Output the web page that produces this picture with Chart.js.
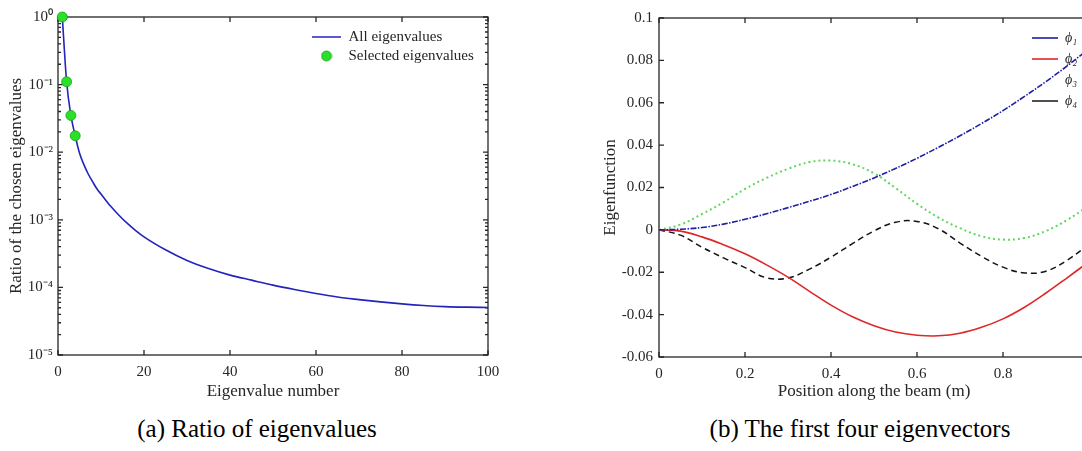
<!DOCTYPE html>
<html>
<head>
<meta charset="utf-8">
<script src="https://cdn.jsdelivr.net/npm/chart.js@4.4.0/dist/chart.umd.min.js"></script>
<style>
  html, body { margin: 0; padding: 0; background: #fff; overflow: hidden; width: 1082px; height: 451px; }
  #wrapA { position: absolute; left: 0; top: 0; }
  #wrapB { position: absolute; left: 540px; top: 0; }
  .caption { position: absolute; top: 415px; line-height: 30px; font: 25px "Liberation Serif", "Times New Roman", serif; color: #000; white-space: nowrap; transform: translateX(-50%); }
</style>
</head>
<body>
<div id="wrapA"><canvas id="ratioChart" width="540" height="410"></canvas></div>
<div id="wrapB"><canvas id="modeChart" width="600" height="410"></canvas></div>
<div class="caption" style="left:257px">(a) Ratio of eigenvalues</div>
<div class="caption" style="left:860px">(b) The first four eigenvectors</div>
<script>
// (a) eigenvalue ratios
var eigNumbers = [1, 2, 3, 4, 5, 6, 7, 8, 9, 10, 12, 14, 16, 18, 20, 25, 30, 35, 40, 45, 50, 55, 60, 65, 70, 75, 80, 85, 90, 95, 100];
var eigRatios = [1, 0.11, 0.035, 0.0175, 0.0097, 0.0066, 0.0048, 0.0037, 0.0029, 0.0024, 0.00165, 0.0012, 0.0009, 0.0007, 0.00056,
                 0.00036, 0.00025, 0.00019, 0.000152, 0.000128, 0.000108, 0.000093, 0.000081, 0.000072, 0.000066, 0.000061,
                 0.000057, 0.000054, 0.000052, 0.000051, 0.0000505];
var selectedNumbers = [1, 2, 3, 4];
var selectedRatios = [1, 0.11, 0.035, 0.0175];
var ratioTicks = [1e-5, 1e-4, 1e-3, 1e-2, 1e-1, 1];
var ratioTickLabels = ['10\u207B\u2075', '10\u207B\u2074', '10\u207B\u00B3', '10\u207B\u00B2', '10\u207B\u00B9', '10\u2070'];
var eigNumberTicks = [0, 20, 40, 60, 80, 100];
var minorSteps = [2, 3, 4, 5, 6, 7, 8, 9];

// (b) first four eigenvectors along the beam
var positions = [0, 0.05, 0.1, 0.15, 0.2, 0.25, 0.3, 0.35, 0.4, 0.45, 0.5, 0.55, 0.6, 0.65, 0.7, 0.75, 0.8, 0.85, 0.9, 0.95, 1];
var phi1 = [0, 0.0003, 0.0011, 0.0027, 0.005, 0.0076, 0.0105, 0.0135, 0.0167, 0.0205, 0.0245, 0.029, 0.0338, 0.039, 0.0444, 0.0502, 0.0563, 0.063, 0.07, 0.0775, 0.0855];
var phi2 = [0, -0.0006, -0.0033, -0.007, -0.0113, -0.0165, -0.0223, -0.029, -0.0355, -0.041, -0.0452, -0.0482, -0.0497, -0.05, -0.0488, -0.046, -0.042, -0.0365, -0.0298, -0.0225, -0.015];
var phi3 = [0, 0.0025, 0.0075, 0.013, 0.0193, 0.0245, 0.0288, 0.032, 0.0327, 0.031, 0.0267, 0.0198, 0.0123, 0.0058, 0.0008, -0.003, -0.0046, -0.0038, -0.0005, 0.0048, 0.0115];
var phi4 = [0, -0.0025, -0.0082, -0.0132, -0.0178, -0.0226, -0.0227, -0.0185, -0.0129, -0.0065, -0.0005, 0.0036, 0.004, 0.0005, -0.0062, -0.0125, -0.0176, -0.0203, -0.0195, -0.0142, -0.0068];
var modeNames = ['\u03D5\u2081', '\u03D5\u2082', '\u03D5\u2083', '\u03D5\u2084'];
var positionTicks = [0, 0.2, 0.4, 0.6, 0.8, 1];
var positionTickLabels = ['0', '0.2', '0.4', '0.6', '0.8', '1'];
var modeTicks = [-0.06, -0.04, -0.02, 0, 0.02, 0.04, 0.06, 0.08, 0.1];
var modeTickLabels = ['-0.06', '-0.04', '-0.02', '0', '0.02', '0.04', '0.06', '0.08', '0.1'];

Chart.defaults.font.family = '"Liberation Serif", "Times New Roman", serif';
Chart.defaults.color = '#262626';
Chart.defaults.animation = false;

function pts(xs, ys) {
    return xs.map(function (x, i) { return {x: x, y: ys[i]}; });
}

// matlab style box with inward ticks
var boxTicks = {
    id: 'boxTicks',
    beforeDatasetsDraw: function (chart, args, opts) {
        var ctx = chart.ctx, a = chart.chartArea, xs = chart.scales.x, ys = chart.scales.y;
        ctx.save();
        ctx.strokeStyle = '#262626';
        ctx.lineWidth = 1.3;
        ctx.strokeRect(a.left, a.top, a.right - a.left, a.bottom - a.top);
        ctx.beginPath();
        xs.ticks.forEach(function (t) {
            var p = xs.getPixelForValue(t.value);
            ctx.moveTo(p, a.bottom); ctx.lineTo(p, a.bottom - 5);
            ctx.moveTo(p, a.top); ctx.lineTo(p, a.top + 5);
        });
        ys.ticks.forEach(function (t) {
            var p = ys.getPixelForValue(t.value);
            ctx.moveTo(a.left, p); ctx.lineTo(a.left + 5, p);
            ctx.moveTo(a.right, p); ctx.lineTo(a.right - 5, p);
        });
        if (opts.minor) {
            ys.ticks.slice(0, -1).forEach(function (t) {
                minorSteps.forEach(function (m) {
                    var p = ys.getPixelForValue(t.value * m);
                    ctx.moveTo(a.left, p); ctx.lineTo(a.left + 3, p);
                    ctx.moveTo(a.right, p); ctx.lineTo(a.right - 3, p);
                });
            });
        }
        ctx.stroke();
        ctx.restore();
    }
};

// put the legend box at a fixed spot inside the axes
var placeLegend = {
    id: 'placeLegend',
    afterLayout: function (chart, args, opts) {
        var lg = chart.legend;
        lg.left = opts.x; lg.top = opts.y;
        lg.right = opts.x + opts.w; lg.bottom = opts.y + opts.h;
        lg.width = opts.w; lg.height = opts.h;
    }
};

var dot = document.createElement('canvas');
dot.width = 12; dot.height = 12;
var dctx = dot.getContext('2d');
dctx.beginPath();
dctx.arc(6, 6, 5, 0, 2 * Math.PI);
dctx.fillStyle = 'rgb(40,225,40)';
dctx.fill();
dctx.lineWidth = 0.8;
dctx.strokeStyle = 'rgb(25,160,25)';
dctx.stroke();

var ctxA = document.getElementById('ratioChart').getContext('2d');
var ratioChart = new Chart(ctxA, {
    type: 'line',
    data: {
        datasets: [{
            label: 'All eigenvalues',
            data: pts(eigNumbers, eigRatios),
            borderColor: 'rgb(35,35,190)',
            borderWidth: 1.6,
            pointRadius: 0,
            cubicInterpolationMode: 'monotone',
            order: 1
        }, {
            label: 'Selected eigenvalues',
            data: pts(selectedNumbers, selectedRatios),
            showLine: false,
            pointRadius: 5,
            pointBackgroundColor: 'rgb(40,225,40)',
            pointBorderColor: 'rgb(25,160,25)',
            pointBorderWidth: 0.8,
            clip: false,
            order: 0
        }]
    },
    options: {
        responsive: false,
        layout: { padding: { left: 0, top: 17, right: 52, bottom: 8 } },
        plugins: {
            tooltip: { enabled: false },
            boxTicks: { minor: true },
            placeLegend: { x: 308, y: 25.5, w: 200, h: 60 },
            legend: {
                position: 'chartArea',
                align: 'start',
                labels: {
                    usePointStyle: true,
                    pointStyleWidth: 29,
                    padding: 4,
                    font: { size: 15 },
                    sort: function (a, b) { return a.datasetIndex - b.datasetIndex; },
                    generateLabels: function (chart) {
                        return Chart.defaults.plugins.legend.labels.generateLabels(chart).map(function (item) {
                            item.pointStyle = item.datasetIndex === 1 ? dot : 'line';
                            return item;
                        });
                    }
                }
            }
        },
        scales: {
            x: {
                type: 'linear',
                min: 0,
                max: 100,
                afterBuildTicks: function (s) { s.ticks = eigNumberTicks.map(function (v) { return {value: v}; }); },
                afterFit: function (s) { s.height = 47; },
                ticks: { padding: 8, font: { size: 15 }, maxRotation: 0 },
                grid: { display: false, drawTicks: false },
                border: { display: false },
                title: { display: true, text: 'Eigenvalue number', font: { size: 17 }, padding: { top: 0, bottom: 0 } }
            },
            y: {
                type: 'logarithmic',
                min: 1e-5,
                max: 1,
                afterBuildTicks: function (s) { s.ticks = ratioTicks.map(function (v) { return {value: v}; }); },
                afterFit: function (s) { s.width = 58; },
                ticks: {
                    padding: 5,
                    font: { size: 15 },
                    callback: function (v, i) { return ratioTickLabels[i]; }
                },
                grid: { display: false, drawTicks: false },
                border: { display: false },
                title: { display: true, text: 'Ratio of the chosen eigenvalues', font: { size: 17 }, padding: { top: 6, bottom: 0 } }
            }
        }
    },
    plugins: [boxTicks, placeLegend]
});

var ctxB = document.getElementById('modeChart').getContext('2d');
var modeChart = new Chart(ctxB, {
    type: 'line',
    data: {
        datasets: [{
            label: modeNames[0],
            data: pts(positions, phi1),
            borderColor: 'rgb(30,30,165)',
            borderWidth: 1.6,
            borderDash: [6, 1.5, 1.5, 1.5],
            tension: 0.4,
            pointRadius: 0
        }, {
            label: modeNames[1],
            data: pts(positions, phi2),
            borderColor: 'rgb(220,40,40)',
            borderWidth: 1.6,
            tension: 0.4,
            pointRadius: 0
        }, {
            label: modeNames[2],
            data: pts(positions, phi3),
            borderColor: 'rgb(95,215,95)',
            borderWidth: 2,
            borderDash: [2, 3],
            tension: 0.4,
            pointRadius: 0
        }, {
            label: modeNames[3],
            data: pts(positions, phi4),
            borderColor: 'rgb(20,20,20)',
            borderWidth: 1.5,
            borderDash: [6, 4],
            tension: 0.4,
            pointRadius: 0
        }]
    },
    options: {
        responsive: false,
        layout: { padding: { left: 49, top: 18, right: 51, bottom: 8 } },
        plugins: {
            tooltip: { enabled: false },
            boxTicks: { minor: false },
            placeLegend: { x: 485, y: 24, w: 115, h: 100 },
            legend: {
                position: 'chartArea',
                align: 'start',
                labels: {
                    usePointStyle: true,
                    pointStyleWidth: 26,
                    padding: 7,
                    font: { size: 14, style: 'italic' },
                    generateLabels: function (chart) {
                        return Chart.defaults.plugins.legend.labels.generateLabels(chart).map(function (item) {
                            item.pointStyle = 'line';
                            // the dotted green sample does not show in the original key
                            if (item.datasetIndex === 2) item.strokeStyle = 'rgba(0,0,0,0)';
                            return item;
                        });
                    }
                }
            }
        },
        scales: {
            x: {
                type: 'linear',
                min: 0,
                max: 1,
                afterBuildTicks: function (s) { s.ticks = positionTicks.map(function (v) { return {value: v}; }); },
                afterFit: function (s) { s.height = 45; },
                ticks: {
                    padding: 8,
                    font: { size: 15 },
                    maxRotation: 0,
                    callback: function (v, i) { return positionTickLabels[i]; }
                },
                grid: { display: false, drawTicks: false },
                border: { display: false },
                title: { display: true, text: 'Position along the beam (m)', font: { size: 17 }, padding: { top: 0, bottom: 0 } }
            },
            y: {
                min: -0.06,
                max: 0.1,
                afterBuildTicks: function (s) { s.ticks = modeTicks.map(function (v) { return {value: v}; }); },
                afterFit: function (s) { s.width = 70; },
                ticks: {
                    padding: 6,
                    font: { size: 15 },
                    callback: function (v, i) { return modeTickLabels[i]; }
                },
                grid: { display: false, drawTicks: false },
                border: { display: false },
                title: { display: true, text: 'Eigenfunction', font: { size: 17 }, padding: { top: 11, bottom: 0 } }
            }
        }
    },
    plugins: [boxTicks, placeLegend]
});
</script>
</body>
</html>
